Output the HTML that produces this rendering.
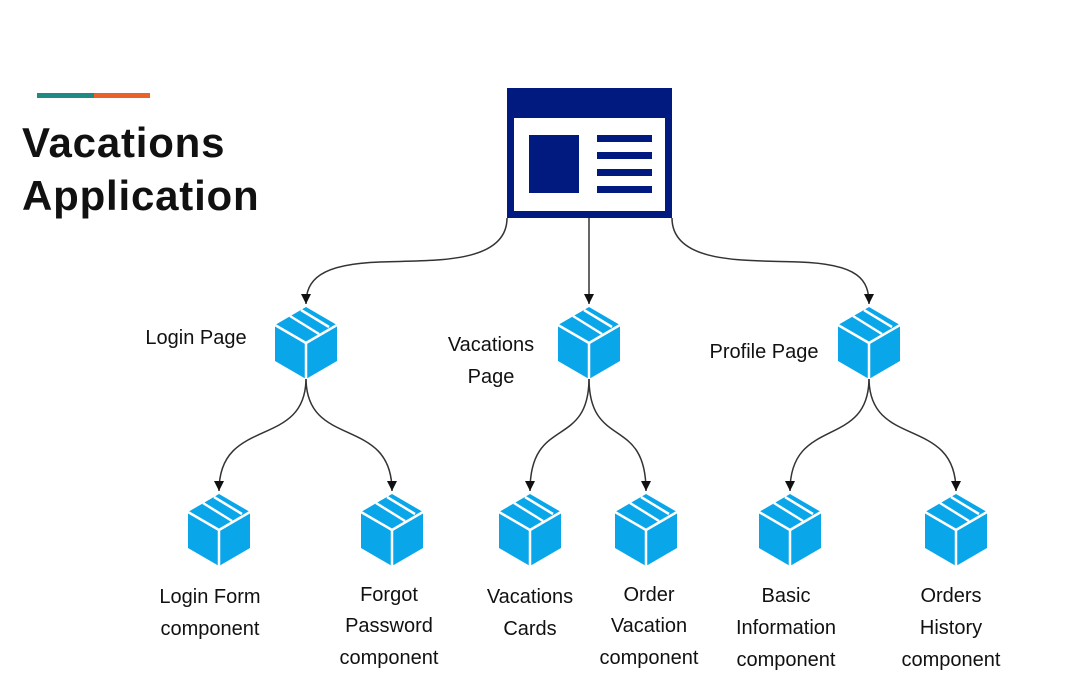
<!DOCTYPE html>
<html><head><style>
html,body{margin:0;padding:0;background:#fff;width:1071px;height:685px;overflow:hidden}
svg{display:block}
text{font-family:"Liberation Sans",sans-serif;fill:#111}
</style></head><body>
<svg width="1071" height="685" viewBox="0 0 1071 685">
<defs>
<marker id="a" markerWidth="12" markerHeight="12" refX="10" refY="5" orient="auto" markerUnits="userSpaceOnUse">
<path d="M0,0 L10,5 L0,10 z" fill="#111"/>
</marker>
<g id="c">
<polygon points="31,0 62,18 62,54 31,72 0,54 0,18" fill="#0aa6ea"/>
<polyline points="0,18 31,36 62,18" fill="none" stroke="#fff" stroke-width="2.5"/>
<line x1="31" y1="36" x2="31" y2="72" stroke="#fff" stroke-width="2.5"/>
<line x1="15" y1="9" x2="44" y2="27" stroke="#fff" stroke-width="2.5"/>
<line x1="26" y1="3" x2="54" y2="20" stroke="#fff" stroke-width="2.5"/>
</g>
</defs>
<rect x="37" y="93" width="57" height="5" fill="#1f8a84"/>
<rect x="94" y="93" width="56" height="5" fill="#e8622a"/>
<text x="22" y="157" font-size="42" font-weight="bold" fill="#222" letter-spacing="0.8">Vacations</text>
<text x="22" y="210" font-size="42" font-weight="bold" fill="#222" letter-spacing="0.8">Application</text>

<rect x="507" y="88" width="165" height="130" fill="#001a80"/>
<rect x="514" y="118" width="151" height="93" fill="#fff"/>
<rect x="529" y="135" width="50" height="58" fill="#001a80"/>
<rect x="597" y="135" width="55" height="7" fill="#001a80"/>
<rect x="597" y="152" width="55" height="7" fill="#001a80"/>
<rect x="597" y="169" width="55" height="7" fill="#001a80"/>
<rect x="597" y="186" width="55" height="7" fill="#001a80"/>

<g fill="none" stroke="#333" stroke-width="1.5" marker-end="url(#a)">
<path d="M507,218 C507,265 430,260 380,262 C320,264 306,280 306,304"/>
<path d="M589,218 L589,304"/>
<path d="M672,218 C672,265 749,260 799,262 C859,264 869,280 869,304"/>
<path d="M306,378 C306,450 219,415 219,491"/>
<path d="M306,378 C306,450 392,415 392,491"/>
<path d="M589,378 C589,450 530,415 530,491"/>
<path d="M589,378 C589,450 646,415 646,491"/>
<path d="M869,378 C869,450 790,415 790,491"/>
<path d="M869,378 C869,450 956,415 956,491"/>
</g>

<use href="#c" x="275" y="307"/>
<use href="#c" x="558" y="307"/>
<use href="#c" x="838" y="307"/>
<use href="#c" x="188" y="494"/>
<use href="#c" x="361" y="494"/>
<use href="#c" x="499" y="494"/>
<use href="#c" x="615" y="494"/>
<use href="#c" x="759" y="494"/>
<use href="#c" x="925" y="494"/>

<g font-size="20" text-anchor="middle">
<text x="196" y="344">Login Page</text>
<text x="491" y="351">Vacations</text>
<text x="491" y="383">Page</text>
<text x="764" y="358">Profile Page</text>
<text x="210" y="603">Login Form</text>
<text x="210" y="635">component</text>
<text x="389" y="601">Forgot</text>
<text x="389" y="632">Password</text>
<text x="389" y="664">component</text>
<text x="530" y="603">Vacations</text>
<text x="530" y="635">Cards</text>
<text x="649" y="601">Order</text>
<text x="649" y="632">Vacation</text>
<text x="649" y="664">component</text>
<text x="786" y="602">Basic</text>
<text x="786" y="634">Information</text>
<text x="786" y="666">component</text>
<text x="951" y="602">Orders</text>
<text x="951" y="634">History</text>
<text x="951" y="666">component</text>
</g>
</svg>
</body></html>
